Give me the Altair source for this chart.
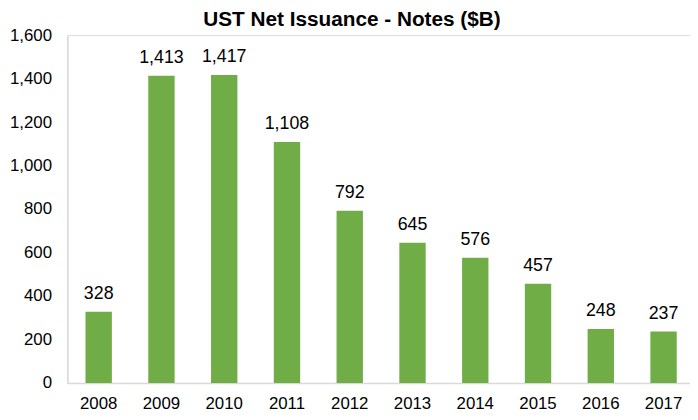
import altair as alt
import pandas as pd

years = ["2008", "2009", "2010", "2011", "2012", "2013", "2014", "2015", "2016", "2017"]
values = [328, 1413, 1417, 1108, 792, 645, 576, 457, 248, 237]
title_text = "UST Net Issuance - Notes ($B)"

df = pd.DataFrame({"year": years, "value": values})
title_df = pd.DataFrame({"t": [title_text]})

W = 630
H = 352
FONT = "Liberation Sans"

base = alt.Chart(df).encode(
    x=alt.X(
        "year:N",
        sort=years,
        scale=alt.Scale(range=[0, 635], paddingInner=0.58, paddingOuter=0.29),
        axis=alt.Axis(
            title=None, labelAngle=0, ticks=False, tickSize=0, labelPadding=13,
            labelFontSize=17, labelFont=FONT, labelColor="#000000",
            domainColor="#d9d9d9", domainWidth=1.5, grid=False,
        ),
    ),
    y=alt.Y(
        "value:Q",
        scale=alt.Scale(domain=[0, 1600], nice=False),
        axis=alt.Axis(
            title=None, values=list(range(0, 1601, 200)), format=",d",
            ticks=False, tickSize=0, labelPadding=16,
            labelFontSize=17, labelFont=FONT, labelColor="#000000",
            domainColor="#d9d9d9", domainWidth=1.5, grid=False,
        ),
    ),
)

bars = base.mark_bar(color="#70AD47")
labels = base.mark_text(
    baseline="alphabetic", dy=-13, fontSize=18, font=FONT, color="#000000"
).encode(text=alt.Text("value:Q", format=","))

title = alt.Chart(title_df).mark_text(
    font=FONT, fontSize=21, fontWeight="bold", color="#000000",
    align="center", baseline="alphabetic",
).encode(text="t:N", x=alt.value(288), y=alt.value(-9))

chart = (
    alt.layer(bars, labels, title)
    .properties(
        width=W,
        height=H,
        autosize=alt.AutoSizeParams(type="none"),
        padding={"left": 60, "top": 25, "right": 0, "bottom": 35},
    )
    .configure_view(stroke=None)
    .configure(background="white")
)

chart.save("out.html", embed_options={"renderer": "svg", "actions": False})
